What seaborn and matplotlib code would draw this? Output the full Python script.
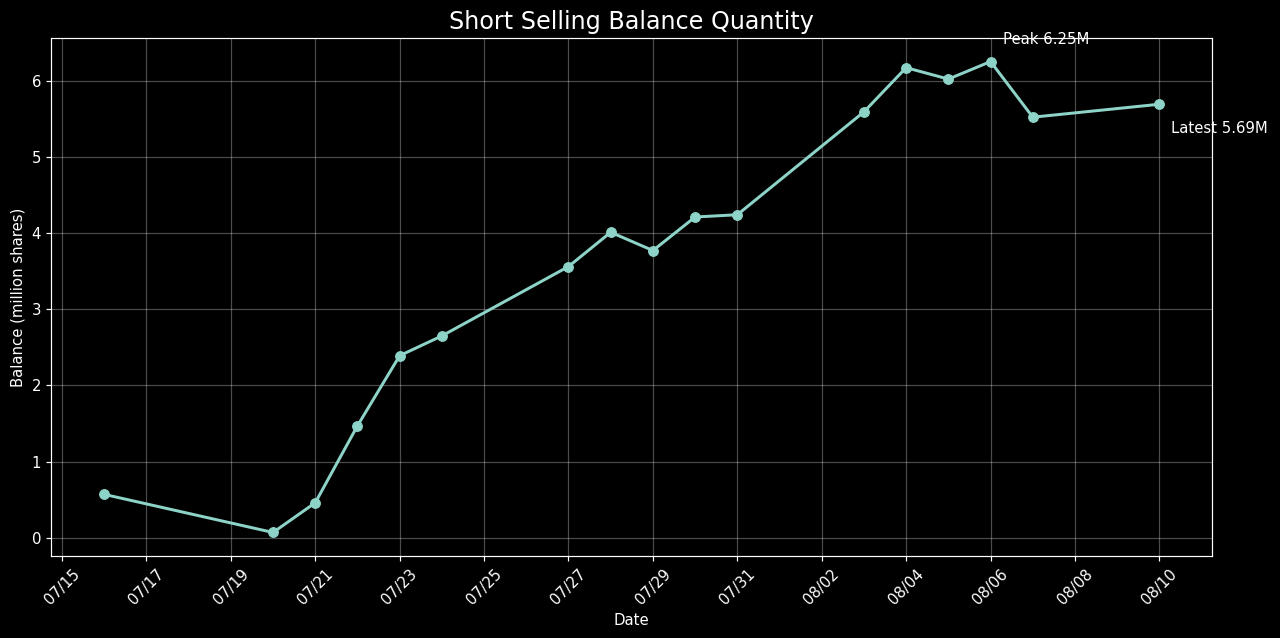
import pandas as pd
import numpy as np
import matplotlib
matplotlib.use('Agg')
import matplotlib.pyplot as plt
import matplotlib.dates as mdates
import seaborn as sns

# Short selling balance (million shares)
dates = ['2024-07-16', '2024-07-20', '2024-07-21', '2024-07-22', '2024-07-23', '2024-07-24',
         '2024-07-27', '2024-07-28', '2024-07-29', '2024-07-30', '2024-07-31', '2024-08-03',
         '2024-08-04', '2024-08-05', '2024-08-06', '2024-08-07', '2024-08-10']
balance = [0.57, 0.07, 0.46, 1.47, 2.39, 2.65, 3.56, 4.01, 3.77, 4.21, 4.24, 5.59,
           6.17, 6.02, 6.25, 5.52, 5.69]
tick_start = '2024-07-15'
tick_end = '2024-08-10'

df = pd.DataFrame({'date': pd.to_datetime(dates), 'balance': balance})

DPI = 107.5
plt.style.use('dark_background')
fig, ax = plt.subplots(figsize=(1280 / DPI, 638 / DPI), dpi=DPI)
sns.lineplot(data=df, x='date', y='balance', marker='o', markersize=6.5,
             linewidth=2, color='#8dd3c7', markeredgecolor='#8dd3c7', ax=ax)

ax.set_title('Short Selling Balance Quantity', fontsize=16)
ax.set_xlabel('Date')
ax.set_ylabel('Balance (million shares)')
ax.grid(True, alpha=0.3)
ax.set_xticks(pd.date_range(tick_start, tick_end, freq='2D'))
ax.xaxis.set_major_formatter(mdates.DateFormatter('%m/%d'))
plt.setp(ax.get_xticklabels(), rotation=45)

# annotate peak and latest values
peak_idx = int(np.argmax(balance))
ax.annotate(f'Peak {balance[peak_idx]:.2f}M', xy=(df['date'][peak_idx], balance[peak_idx]),
            xytext=(8, 12), textcoords='offset points', color='white')
ax.annotate(f'Latest {balance[-1]:.2f}M', xy=(df['date'].iloc[-1], balance[-1]),
            xytext=(8, -19), textcoords='offset points', color='white')

fig.subplots_adjust(left=0.0402, right=0.947, top=0.9404, bottom=0.1285)
fig.savefig('out.png', dpi=DPI)
